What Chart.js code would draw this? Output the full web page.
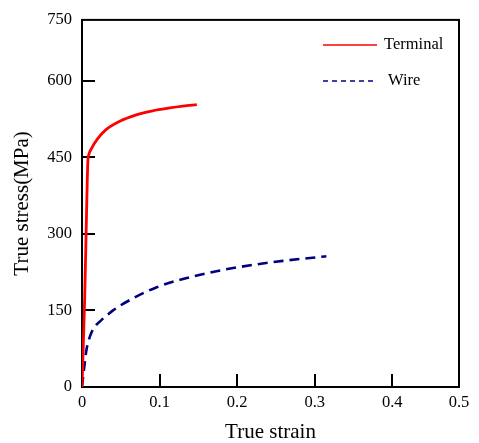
<!DOCTYPE html>
<html>
<head>
<meta charset="utf-8">
<script src="https://cdn.jsdelivr.net/npm/chart.js@4.4.1/dist/chart.umd.min.js"></script>
<style>
  html, body { margin: 0; padding: 0; background: #ffffff; }
  #wrap { width: 479px; height: 443px; }
</style>
</head>
<body>
<div id="wrap"><canvas id="c" width="479" height="443"></canvas></div>
<script>
// ---- data ----
const seriesNames = ['Terminal', 'Wire'];
const terminalStrain = [0, 0.0035, 0.0062, 0.0075, 0.009, 0.0118, 0.02, 0.031, 0.048, 0.07, 0.091, 0.113, 0.13, 0.148];
const terminalStress = [0, 175, 365, 440, 456, 466, 486, 504, 520, 533, 541, 546.5, 550, 553];
const wireStrain = [0, 0.003, 0.006, 0.0105, 0.016, 0.025, 0.04, 0.0613, 0.0957, 0.147, 0.199, 0.259, 0.309, 0.315];
const wireStress = [0, 40, 75, 100, 117, 131, 150, 170, 195, 218, 234, 247, 255, 256];

// axis ticks (the frame of the original ends slightly short of the last labelled value)
const X_MAX = 0.486;
const Y_MAX = 719;
const xTickValues = [0, 0.1, 0.2, 0.3, 0.4, X_MAX];
const xTickLabels = ['0', '0.1', '0.2', '0.3', '0.4', '0.5'];
const yTickValues = [0, 150, 300, 450, 600, Y_MAX];
const yTickLabels = ['0', '150', '300', '450', '600', '750'];

const FONT = '"Liberation Serif", "Times New Roman", serif';

function toPoints(xs, ys) { return xs.map((x, i) => ({ x: x, y: ys[i] })); }

const framePlugin = {
  id: 'frame',
  beforeDatasetsDraw(chart) {
    const { ctx, chartArea: a, scales } = chart;
    ctx.save();
    ctx.strokeStyle = '#000';
    ctx.lineWidth = 2;
    ctx.strokeRect(a.left, a.top, a.right - a.left, a.bottom - a.top);
    ctx.beginPath();
    xTickValues.forEach(v => {
      if (v <= 0 || v >= X_MAX) return;
      const px = Math.round(scales.x.getPixelForValue(v));
      ctx.moveTo(px, a.bottom);
      ctx.lineTo(px, a.bottom - 13);
    });
    yTickValues.forEach(v => {
      if (v <= 0 || v >= Y_MAX) return;
      const py = Math.round(scales.y.getPixelForValue(v));
      ctx.moveTo(a.left, py);
      ctx.lineTo(a.left + 13, py);
    });
    ctx.stroke();
    ctx.restore();
  }
};

const legendPlugin = {
  id: 'innerLegend',
  afterDraw(chart) {
    const { ctx } = chart;
    const rows = [{ y: 45, tx: 384 }, { y: 81, tx: 388 }];
    ctx.save();
    chart.data.datasets.forEach((ds, i) => {
      const r = rows[i];
      ctx.beginPath();
      ctx.strokeStyle = ds.borderColor;
      ctx.lineWidth = 1.6;
      ctx.setLineDash(ds.borderDash && ds.borderDash.length ? [5, 4] : []);
      ctx.moveTo(323, r.y);
      ctx.lineTo(377, r.y);
      ctx.stroke();
      ctx.setLineDash([]);
      ctx.fillStyle = '#000';
      ctx.font = '16.5px ' + FONT;
      ctx.textBaseline = 'middle';
      ctx.textAlign = 'left';
      ctx.fillText(ds.label, r.tx, r.y);
    });
    ctx.restore();
  }
};

new Chart(document.getElementById('c'), {
  type: 'line',
  data: {
    datasets: [
      {
        label: seriesNames[0],
        data: toPoints(terminalStrain, terminalStress),
        borderColor: '#ff0000',
        borderWidth: 2.8,
        pointRadius: 0,
        cubicInterpolationMode: 'monotone',
        fill: false
      },
      {
        label: seriesNames[1],
        data: toPoints(wireStrain, wireStress),
        borderColor: '#000080',
        borderWidth: 2.6,
        borderDash: [10, 6],
        pointRadius: 0,
        cubicInterpolationMode: 'monotone',
        fill: false
      }
    ]
  },
  options: {
    responsive: false,
    animation: false,
    devicePixelRatio: 1,
    layout: { padding: { left: 0, top: 17, right: 20, bottom: 0 } },
    plugins: { legend: { display: false }, tooltip: { enabled: false } },
    scales: {
      x: {
        type: 'linear',
        min: 0,
        max: X_MAX,
        grid: { display: false, drawTicks: false },
        border: { display: false },
        afterBuildTicks(scale) { scale.ticks = xTickValues.map(v => ({ value: v })); },
        afterFit(scale) { scale.height = 56; },
        ticks: {
          autoSkip: false,
          maxRotation: 0,
          padding: 6,
          color: '#000',
          font: { family: FONT, size: 16.5 },
          callback: (v, i) => xTickLabels[i]
        },
        title: {
          display: true,
          text: 'True strain',
          color: '#000',
          font: { family: FONT, size: 21, lineHeight: 1 },
          padding: { top: 0, bottom: 0 }
        }
      },
      y: {
        type: 'linear',
        min: 0,
        max: Y_MAX,
        grid: { display: false, drawTicks: false },
        border: { display: false },
        afterBuildTicks(scale) { scale.ticks = yTickValues.map(v => ({ value: v })); },
        afterFit(scale) { scale.width = 82; },
        ticks: {
          autoSkip: false,
          padding: 10,
          color: '#000',
          font: { family: FONT, size: 16.5 },
          callback: (v, i) => yTickLabels[i]
        },
        title: {
          display: true,
          text: 'True stress(MPa)',
          color: '#000',
          font: { family: FONT, size: 21, lineHeight: 1 },
          padding: { top: 12, bottom: 0 }
        }
      }
    }
  },
  plugins: [framePlugin, legendPlugin]
});
</script>
</body>
</html>
